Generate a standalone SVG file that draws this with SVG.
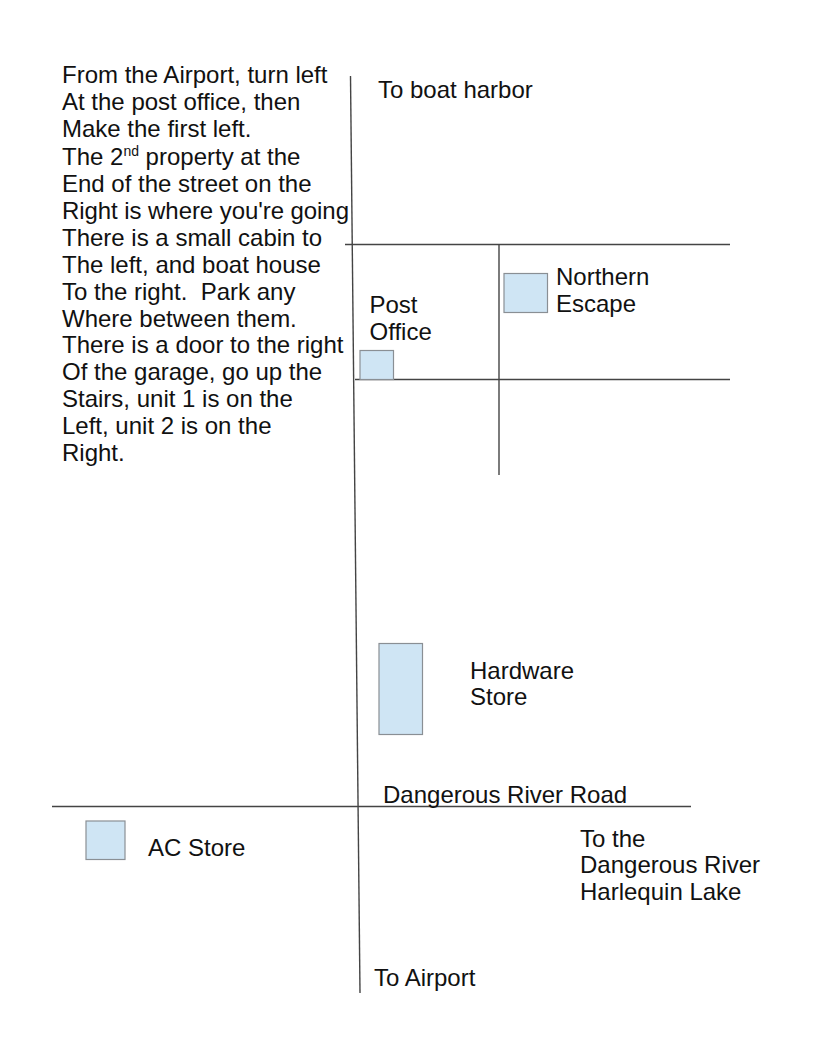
<svg xmlns="http://www.w3.org/2000/svg" width="816" height="1056" viewBox="0 0 816 1056">
<style>
text{font-family:"Liberation Sans",Arial,sans-serif;font-size:24px;fill:#111;white-space:pre}
.b{fill:#cfe5f4;stroke:#8a8f94;stroke-width:1.2}
.r{stroke:#444;stroke-width:1.4;fill:none}
</style>
<rect width="816" height="1056" fill="#fff"/>
<g id="connectors">
<line class="r" x1="350.500" y1="76" x2="360" y2="993"/>
<line class="r" x1="345" y1="244.500" x2="730" y2="244.500"/>
<line class="r" x1="355" y1="379.500" x2="730" y2="379.500"/>
<line class="r" x1="499" y1="244" x2="499" y2="475"/>
<line class="r" x1="52" y1="806.500" x2="691" y2="806.500"/>
</g>
<g id="directions">
<text x="62" y="83">From the Airport, turn left</text>
<text x="62" y="110">At the post office, then</text>
<text x="62" y="137">Make the first left.</text>
<text x="62" y="165">The 2<tspan font-size="14" dy="-9">nd</tspan><tspan dy="9"> property at the</tspan></text>
<text x="62" y="192">End of the street on the</text>
<text x="62" y="219" textLength="287">Right is where you're going</text>
<text x="62" y="246">There is a small cabin to</text>
<text x="62" y="273">The left, and boat house</text>
<text x="62" y="300">To the right.  Park any</text>
<text x="62" y="327">Where between them.</text>
<text x="62" y="353">There is a door to the right</text>
<text x="62" y="380">Of the garage, go up the</text>
<text x="62" y="407">Stairs, unit 1 is on the</text>
<text x="62" y="434">Left, unit 2 is on the</text>
<text x="62" y="461">Right.</text>
</g>
<g id="boat-harbor"><text x="378" y="98">To boat harbor</text></g>
<g id="northern-escape"><rect class="b" x="504" y="273.500" width="43.500" height="39"/><text x="556" y="285">Northern</text><text x="556" y="312">Escape</text></g>
<g id="post-office"><rect class="b" x="360" y="350.500" width="33.500" height="29"/><text x="369.500" y="313">Post</text><text x="369.500" y="340">Office</text></g>
<g id="hardware-store"><rect class="b" x="379" y="643.500" width="43.500" height="91"/><text x="470" y="679">Hardware</text><text x="470" y="705">Store</text></g>
<g id="dangerous-river-road"><text x="383" y="803">Dangerous River Road</text></g>
<g id="ac-store"><rect class="b" x="86" y="821" width="39" height="38.500"/><text x="148" y="856">AC Store</text></g>
<g id="dangerous-river"><text x="580" y="847">To the</text><text x="580" y="873">Dangerous River</text><text x="580" y="900">Harlequin Lake</text></g>
<g id="airport"><text x="374" y="986">To Airport</text></g>
</svg>
